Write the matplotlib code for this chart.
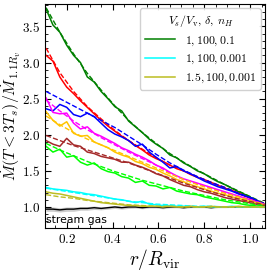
import matplotlib
matplotlib.use('Agg')
import matplotlib.pyplot as plt
import numpy as np

plt.rcParams['font.family'] = 'serif'
plt.rcParams['font.serif'] = ['cmr10']
plt.rcParams['mathtext.fontset'] = 'cm'
plt.rcParams['axes.formatter.use_mathtext'] = True

# radius grid of the simulation profiles and of the fits
r_sim = [0.11, 0.14, 0.17, 0.20, 0.23, 0.26, 0.29, 0.32, 0.35, 0.38, 0.41,
         0.44, 0.47, 0.50, 0.53, 0.56, 0.59, 0.62, 0.65, 0.68, 0.71, 0.74,
         0.77, 0.80, 0.83, 0.86, 0.89, 0.92, 0.95, 0.98, 1.01, 1.04, 1.07]
r_fit = [0.11, 0.17, 0.23, 0.29, 0.35, 0.41, 0.47, 0.53, 0.59, 0.65, 0.71,
         0.77, 0.83, 0.89, 0.95, 1.01, 1.07]

green_sim = [3.74, 3.52, 3.42, 3.24, 3.10, 3.00, 2.80, 2.73, 2.60, 2.50, 2.39,
             2.33, 2.19, 2.11, 2.03, 1.94, 1.87, 1.81, 1.72, 1.68, 1.61, 1.56,
             1.50, 1.46, 1.40, 1.35, 1.31, 1.26, 1.21, 1.17, 1.12, 1.07, 1.03]
green_fit = [3.76, 3.42, 3.12, 2.85, 2.62, 2.40, 2.20, 2.03, 1.88, 1.74, 1.62,
             1.51, 1.41, 1.31, 1.22, 1.13, 1.04]

red_sim = [3.10, 3.02, 2.80, 2.66, 2.57, 2.47, 2.38, 2.29, 2.20, 2.12, 2.05,
           1.98, 1.92, 1.85, 1.79, 1.72, 1.67, 1.63, 1.58, 1.53, 1.50, 1.45,
           1.41, 1.38, 1.34, 1.30, 1.26, 1.23, 1.19, 1.15, 1.11, 1.07, 1.03]
red_fit = [3.20, 2.86, 2.60, 2.39, 2.22, 2.06, 1.92, 1.80, 1.68, 1.58, 1.50,
           1.42, 1.34, 1.27, 1.19, 1.11, 1.03]

blue_sim = [2.36, 2.33, 2.42, 2.38, 2.28, 2.25, 2.30, 2.25, 2.16, 2.07, 2.01,
            1.97, 1.92, 1.84, 1.87, 1.76, 1.69, 1.62, 1.54, 1.56, 1.50, 1.46,
            1.41, 1.36, 1.32, 1.28, 1.25, 1.22, 1.18, 1.15, 1.12, 1.07, 1.03]
blue_fit = [2.60, 2.50, 2.40, 2.30, 2.20, 2.10, 1.98, 1.86, 1.73, 1.61, 1.51,
            1.42, 1.34, 1.27, 1.19, 1.12, 1.03]

magenta_sim = [2.51, 2.31, 2.29, 2.30, 2.16, 2.08, 2.11, 2.02, 1.98, 1.93, 1.88,
               1.82, 1.78, 1.73, 1.69, 1.64, 1.58, 1.54, 1.48, 1.43, 1.39, 1.36,
               1.33, 1.30, 1.27, 1.24, 1.21, 1.18, 1.15, 1.12, 1.09, 1.06, 1.03]
magenta_fit = [2.48, 2.33, 2.19, 2.07, 1.96, 1.86, 1.76, 1.67, 1.58, 1.47, 1.38,
               1.32, 1.26, 1.20, 1.15, 1.09, 1.03]

gold_sim = [2.32, 2.20, 2.12, 2.18, 2.02, 1.98, 1.99, 1.90, 1.86, 1.82, 1.76,
            1.72, 1.69, 1.63, 1.60, 1.55, 1.52, 1.47, 1.43, 1.38, 1.35, 1.31,
            1.28, 1.25, 1.22, 1.19, 1.17, 1.14, 1.12, 1.09, 1.07, 1.05, 1.02]
gold_fit = [2.26, 2.14, 2.03, 1.94, 1.86, 1.78, 1.70, 1.62, 1.54, 1.46, 1.38,
            1.31, 1.25, 1.19, 1.14, 1.08, 1.03]

brown_sim = [1.92, 1.87, 1.84, 1.95, 1.86, 1.84, 1.76, 1.74, 1.70, 1.68, 1.66,
             1.62, 1.62, 1.58, 1.55, 1.51, 1.46, 1.43, 1.38, 1.34, 1.30, 1.28,
             1.24, 1.21, 1.19, 1.16, 1.13, 1.11, 1.09, 1.07, 1.05, 1.03, 1.01]
brown_fit = [1.99, 1.92, 1.85, 1.79, 1.73, 1.67, 1.61, 1.54, 1.47, 1.40, 1.33,
             1.27, 1.21, 1.16, 1.11, 1.07, 1.02]

lime_sim = [1.84, 1.76, 1.80, 1.69, 1.71, 1.62, 1.58, 1.61, 1.53, 1.49, 1.47,
            1.42, 1.40, 1.34, 1.36, 1.30, 1.29, 1.25, 1.27, 1.22, 1.20, 1.18,
            1.17, 1.14, 1.12, 1.10, 1.08, 1.06, 1.05, 1.03, 1.02, 1.01, 1.00]
lime_fit = [1.88, 1.79, 1.71, 1.63, 1.56, 1.49, 1.43, 1.37, 1.32, 1.27, 1.22,
            1.18, 1.14, 1.10, 1.07, 1.04, 1.01]

cyan_sim = [1.27, 1.25, 1.24, 1.23, 1.21, 1.20, 1.18, 1.17, 1.15, 1.13, 1.11,
            1.10, 1.08, 1.06, 1.08, 1.04, 1.03, 1.02, 1.02, 1.01, 1.01, 1.01,
            1.00, 1.01, 1.00, 1.00, 1.00, 1.01, 1.00, 1.00, 1.00, 1.00, 1.00]
cyan_fit = [1.26, 1.23, 1.20, 1.17, 1.14, 1.11, 1.08, 1.06, 1.04, 1.03, 1.02,
            1.01, 1.01, 1.00, 1.00, 1.00, 1.00]

olive_sim = [1.21, 1.19, 1.18, 1.16, 1.14, 1.12, 1.10, 1.08, 1.06, 1.05, 1.04,
             1.03, 1.02, 1.02, 1.01, 1.01, 1.01, 1.00, 1.01, 1.00, 1.00, 1.01,
             1.00, 1.00, 1.01, 1.00, 1.00, 1.00, 1.01, 1.00, 1.00, 1.00, 1.00]
olive_fit = [1.17, 1.14, 1.12, 1.09, 1.07, 1.05, 1.03, 1.02, 1.01, 1.01, 1.00,
             1.00, 1.00, 1.00, 1.00, 1.00, 1.00]

stream_sim = [0.97, 0.97, 0.96, 0.97, 0.97, 0.98, 0.98, 0.99, 0.98, 0.99, 1.00,
              0.99, 1.00, 1.00, 0.99, 1.00, 1.00, 0.99, 1.00, 1.00, 0.99, 1.00,
              1.00, 1.00, 0.99, 1.00, 1.00, 1.00, 1.00, 1.00, 1.00, 1.00, 1.00]
stream_err = [0.03, 0.03, 0.03, 0.03, 0.03, 0.025, 0.025, 0.025, 0.02, 0.02, 0.02,
              0.02, 0.02, 0.015, 0.015, 0.015, 0.015, 0.015, 0.012, 0.012, 0.012, 0.01,
              0.01, 0.01, 0.01, 0.01, 0.01, 0.008, 0.008, 0.008, 0.006, 0.005, 0.004]

legend_title = r'$V_s/V_{\rm v}$, $\delta$, $n_H$'
series = [
    ('green', green_sim, green_fit, r'$1, 100, 0.1$'),
    ('red', red_sim, red_fit, None),
    ('blue', blue_sim, blue_fit, None),
    ('magenta', magenta_sim, magenta_fit, None),
    ('#ffc400', gold_sim, gold_fit, None),
    ('brown', brown_sim, brown_fit, None),
    ('lime', lime_sim, lime_fit, None),
    ('cyan', cyan_sim, cyan_fit, r'$1, 100, 0.001$'),
    ('#bcbd22', olive_sim, olive_fit, r'$1.5, 100, 0.001$'),
]

fig = plt.figure(figsize=(2.74, 2.71), dpi=100)
ax = fig.add_axes([0.164, 0.159, 0.803, 0.826])

r_sim = np.array(r_sim)
stream_sim = np.array(stream_sim)
stream_err = np.array(stream_err)
ax.fill_between(r_sim, stream_sim - stream_err, stream_sim + stream_err,
                color='gray', alpha=0.4, lw=0)
ax.plot(r_sim, stream_sim, color='k', lw=1.0)

handles = []
labels = []
for color, sim, fit, label in series:
    l, = ax.plot(r_sim, sim, color=color, lw=1.1)
    ax.plot(r_fit, fit, color=color, lw=1.0, ls='--')
    if label is not None:
        handles.append(l)
        labels.append(label)

ax.text(0.108, 0.78, 'stream gas', family='DejaVu Sans', fontsize=7.8)

ax.set_xlim(0.105, 1.065)
ax.set_ylim(0.71, 3.81)
ax.set_xticks([0.2, 0.4, 0.6, 0.8, 1.0])
ax.set_yticks([1.0, 1.5, 2.0, 2.5, 3.0, 3.5])
ax.xaxis.set_minor_locator(matplotlib.ticker.MultipleLocator(0.05))
ax.yaxis.set_minor_locator(matplotlib.ticker.MultipleLocator(0.1))
ax.tick_params(which='both', direction='in', top=True, right=True, labelsize=9.5)
ax.tick_params(which='major', length=4)
ax.tick_params(which='minor', length=2)
ax.set_xlabel(r'$r/R_{\rm vir}$', fontsize=14, labelpad=1)
ax.set_ylabel(r'$\dot M(T<3T_s)/\dot M_{1.1R_v}$', fontsize=11.3, labelpad=-1)

leg = ax.legend(handles, labels, title=legend_title, loc='upper right',
                fontsize=8.5, title_fontsize=8.5, handlelength=2.6,
                borderaxespad=0.35, framealpha=0.9, labelspacing=0.45)

fig.savefig('out.png', dpi=100)
